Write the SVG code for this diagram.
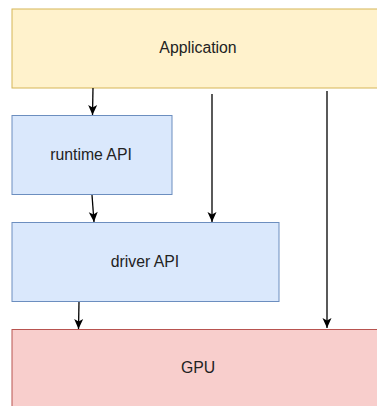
<svg xmlns="http://www.w3.org/2000/svg" width="377" height="406" viewBox="0 0 377 406">
<style>
.lbl{font-family:"Liberation Sans",Arial,sans-serif;font-size:15.8px;fill:#222;text-anchor:middle;dominant-baseline:central}
.edge{stroke:#000;stroke-width:1.3;fill:none}
</style>
<defs>
<marker id="ah" markerWidth="12" markerHeight="12" viewBox="0 0 12 12" refX="11" refY="6" orient="auto" markerUnits="userSpaceOnUse">
<path d="M1,1.5 L11,6 L1,10.5 L3.5,6 Z" fill="#000"/>
</marker>
</defs>
<rect width="377" height="406" fill="#fff"/>
<g id="application">
<rect x="12" y="9" width="372" height="79" fill="#fff2cc" stroke="#d6b656"/>
<text class="lbl" x="198" y="47.5">Application</text>
</g>
<g id="runtime-api">
<rect x="12" y="115.5" width="160" height="79" fill="#dae8fc" stroke="#6c8ebf"/>
<text class="lbl" x="91" y="154.5">runtime API</text>
</g>
<g id="driver-api">
<rect x="12" y="222.5" width="267" height="79" fill="#dae8fc" stroke="#6c8ebf"/>
<text class="lbl" x="145" y="261.5">driver API</text>
</g>
<g id="gpu">
<rect x="12" y="329.5" width="372" height="90" fill="#f8cecc" stroke="#b85450"/>
<text class="lbl" x="198" y="367.5">GPU</text>
</g>
<g id="connectors">
<line class="edge" x1="93" y1="88" x2="92.5" y2="115" marker-end="url(#ah)"/>
<line class="edge" x1="92" y1="195" x2="94" y2="222" marker-end="url(#ah)"/>
<line class="edge" x1="212" y1="94" x2="212" y2="222" marker-end="url(#ah)"/>
<line class="edge" x1="327" y1="91" x2="327" y2="328" marker-end="url(#ah)"/>
<line class="edge" x1="79" y1="302" x2="78.5" y2="329" marker-end="url(#ah)"/>
</g>
</svg>
